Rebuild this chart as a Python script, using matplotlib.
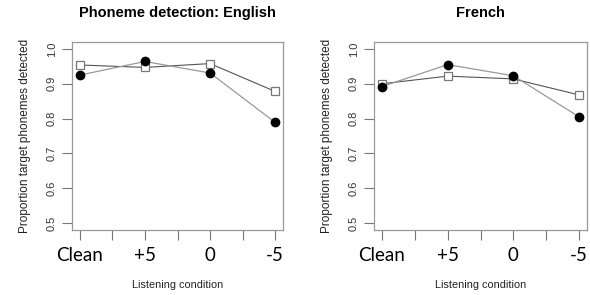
import numpy as np
import matplotlib
matplotlib.use("Agg")
import matplotlib.pyplot as plt
import matplotlib.transforms as mtransforms

plt.rcParams['font.family'] = ['Liberation Sans', 'DejaVu Sans']

conditions = ['Clean', '+5', '0', '-5']
english_circle = [0.925, 0.964, 0.931, 0.789]
english_square = [0.954, 0.947, 0.958, 0.878]
french_circle = [0.892, 0.955, 0.923, 0.805]
french_square = [0.900, 0.922, 0.914, 0.868]
yticks = [0.5, 0.6, 0.7, 0.8, 0.9, 1.0]
ytick_labels = ['0.5', '0.6', '0.7', '0.8', '0.9', '1.0']

fig = plt.figure(figsize=(5.9, 2.95), dpi=100)
W, H = 590, 295

def make_panel(left, right, title, circ, sq, shifts):
    ax = fig.add_axes([left / W, 1 - 230 / H, (right - left) / W, (230 - 42) / H])
    x = np.arange(1, len(conditions) + 1)
    ax.plot(x, sq, color='#555555', lw=0.8, marker='s', ms=6,
            mfc='white', mec='#777777', mew=0.9, zorder=3)
    ax.plot(x, circ, color='#999999', lw=0.9, marker='o', ms=6,
            mfc='black', mec='black', zorder=4)
    ax.set_xlim(0.88, 4.12)
    ax.set_ylim(0.48, 1.02)
    ax.set_xticks(np.arange(1, 4.01, 0.5))
    ax.set_xticklabels(['Clean', '', '+5', '', '0', '', '-5'],
                       fontsize=13.5, family='Lato', color='black')
    # the condition labels were placed by hand in the original, nudge them
    labs = [t for t in ax.get_xticklabels() if t.get_text()]
    for t, dx in zip(labs, shifts):
        t.set_transform(t.get_transform() + mtransforms.ScaledTranslation(dx / 100, 0, fig.dpi_scale_trans))
    ax.set_yticks(yticks)
    ax.set_yticklabels(ytick_labels, rotation=90, va='center', fontsize=8, color='#333333')
    ax.tick_params(axis='x', length=7, color='#777777', pad=5)
    ax.tick_params(axis='y', length=7, color='#777777', pad=4)
    for s in ax.spines.values():
        s.set_color('#999999')
        s.set_linewidth(0.9)
    ax.set_title(title, fontsize=10.5, fontweight='bold', pad=18)
    ax.set_xlabel('Listening condition', fontsize=7.8, color='#222222', labelpad=12)
    ax.set_ylabel('Proportion target phonemes detected', fontsize=8.5, color='#222222', labelpad=11)
    return ax

make_panel(72, 283, 'Phoneme detection: English', english_circle, english_square, [15, -2, -1, -4])
make_panel(374, 587, 'French', french_circle, french_square, [18, 1, 0, -4])

fig.savefig('out.png', dpi=100)
